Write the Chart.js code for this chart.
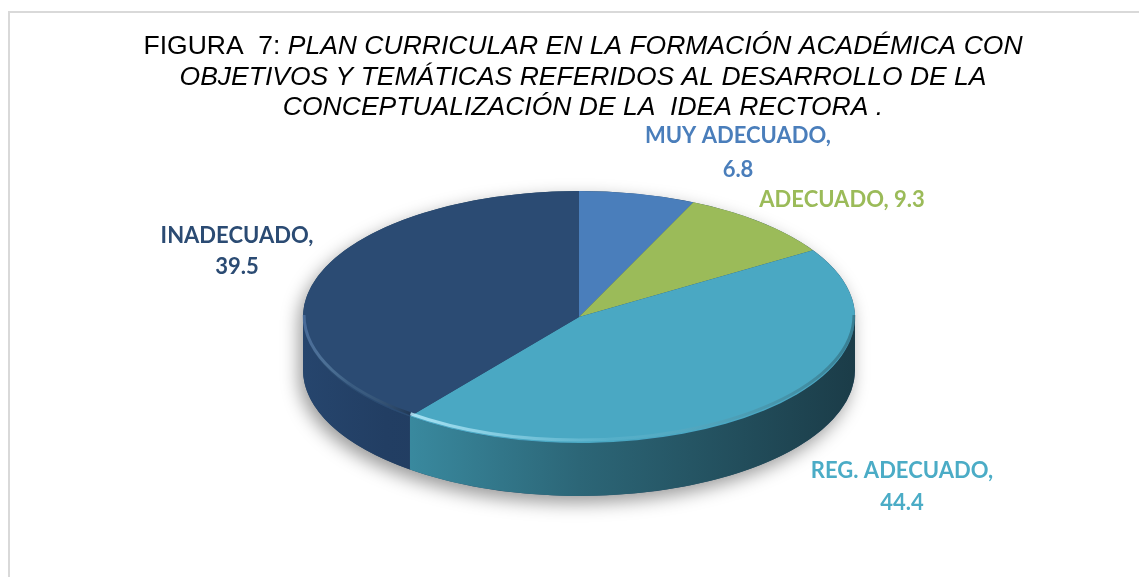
<!DOCTYPE html>
<html>
<head>
<meta charset="utf-8">
<script src="https://cdn.jsdelivr.net/npm/chart.js@4.4.1/dist/chart.umd.min.js"></script>
<style>
  html, body { margin: 0; padding: 0; background: #fff; }
  #wrap { position: relative; width: 1139px; height: 577px; }
</style>
</head>
<body>
<div id="wrap"><canvas id="pie" width="1139" height="577"></canvas></div>
<script>
// data
const categories = ["MUY ADECUADO", "ADECUADO", "REG. ADECUADO", "INADECUADO"];
const values = [6.8, 9.3, 44.4, 39.5];
const titleLines = [
  ["FIGURA  7: ", "PLAN CURRICULAR EN LA FORMACIÓN ACADÉMICA CON"],
  ["", "OBJETIVOS Y TEMÁTICAS REFERIDOS AL DESARROLLO DE LA"],
  ["", "CONCEPTUALIZACIÓN DE LA  IDEA RECTORA ."],
];

// look
const topColors = ["#4a7ebb", "#9bbb59", "#4aa8c3", "#2b4b73"];
const labelColors = ["#4a7ebb", "#9bbb59", "#4bacc6", "#2b4b73"];
const sideStops = [
  [[0, "#3a6494"], [1, "#2a4a70"]],
  [[0, "#7a9446"], [1, "#5f7436"]],
  [[0, "#4499b0"], [0.15, "#3b8ea4"], [0.5, "#2c6677"], [1, "#1b3c48"]],
  [[0, "#26456d"], [0.15, "#223e63"], [1, "#1c3352"]],
];
const bevelLight = [
  "rgba(140,180,230,0.6)",
  "rgba(200,225,150,0.6)",
  "rgba(190,240,255,0.8)",
  "rgba(95,130,180,0.55)",
];
// ellipse of the top face, depth of the wall
const PIE = { cx: 579, cy: 317, rx: 276, ry: 126, depth: 53 };
// label anchors (centre of each text line)
const labelPos = [
  { x: 738, y: [136, 170], lines: 2 },
  { x: 842, y: [200], lines: 1 },
  { x: 902, y: [471, 503], lines: 2 },
  { x: 237, y: [236, 267], lines: 2 },
];
const TITLE_FONT = "26.5px 'Liberation Sans', Arial";

function ellPt(a) {
  return PIE.cx + PIE.rx * Math.cos(a);
}

const frame = {
  id: "frame",
  beforeDraw(chart) {
    const ctx = chart.ctx;
    ctx.save();
    ctx.strokeStyle = "#d9d9d9";
    ctx.lineWidth = 2;
    ctx.beginPath();
    ctx.moveTo(9, 577);
    ctx.lineTo(9, 12);
    ctx.lineTo(1139, 12);
    ctx.stroke();

    // title, first chunk upright, rest italic
    ctx.fillStyle = "#000";
    ctx.textBaseline = "middle";
    const ys = [47, 78, 108];
    titleLines.forEach((parts, i) => {
      ctx.font = TITLE_FONT;
      const w0 = ctx.measureText(parts[0]).width;
      ctx.font = "italic " + TITLE_FONT;
      const w1 = ctx.measureText(parts[1]).width;
      let x = 583 - (w0 + w1) / 2;
      ctx.textAlign = "left";
      ctx.font = TITLE_FONT;
      ctx.fillText(parts[0], x, ys[i]);
      ctx.font = "italic " + TITLE_FONT;
      ctx.fillText(parts[1], x + w0, ys[i]);
    });
    ctx.restore();
  },
};

const pie3d = {
  id: "pie3d",
  beforeDatasetsDraw(chart) {
    const ctx = chart.ctx;
    const meta = chart.getDatasetMeta(0);
    const { cx, cy, rx, ry, depth } = PIE;

    // silhouette with soft shadow
    ctx.save();
    ctx.shadowColor = "rgba(0,0,0,0.4)";
    ctx.shadowBlur = 18;
    ctx.shadowOffsetX = -4;
    ctx.shadowOffsetY = 7;
    ctx.fillStyle = "#2a4a66";
    ctx.beginPath();
    ctx.ellipse(cx, cy, rx, ry, 0, Math.PI, 2 * Math.PI, false);
    ctx.lineTo(cx + rx, cy + depth);
    ctx.ellipse(cx, cy + depth, rx, ry, 0, 0, Math.PI, false);
    ctx.closePath();
    ctx.fill();
    ctx.restore();

    // front walls of each slice
    meta.data.forEach((arc, i) => {
      const lo = Math.max(arc.startAngle, 0);
      const hi = Math.min(arc.endAngle, Math.PI);
      if (lo >= hi) return;
      const g = ctx.createLinearGradient(cx - rx, 0, cx + rx, 0);
      sideStops[i].forEach(([o, c]) => g.addColorStop(o, c));
      ctx.save();
      ctx.fillStyle = g;
      ctx.beginPath();
      ctx.ellipse(cx, cy, rx, ry, 0, lo, hi, false);
      ctx.ellipse(cx, cy + depth, rx, ry, 0, hi, lo, true);
      ctx.closePath();
      ctx.fill();
      ctx.restore();
    });

    // squash the library's round pie onto the ellipse
    const a = meta.data[0];
    ctx.save();
    ctx.translate(cx, cy);
    ctx.scale(rx / a.outerRadius, ry / a.outerRadius);
    ctx.translate(-a.x, -a.y);
  },
  afterDatasetsDraw(chart) {
    const ctx = chart.ctx;
    ctx.restore();
    const meta = chart.getDatasetMeta(0);
    const { cx, cy, rx, ry } = PIE;
    // bevel light along the front rim
    meta.data.forEach((arc, i) => {
      const lo = Math.max(arc.startAngle, 0);
      const hi = Math.min(arc.endAngle, Math.PI);
      if (lo >= hi) return;
      const g = ctx.createLinearGradient(ellPt(hi), 0, ellPt(lo), 0);
      g.addColorStop(0, bevelLight[i]);
      g.addColorStop(0.45, "rgba(190,240,255,0.1)");
      g.addColorStop(1, "rgba(0,0,0,0.25)");
      ctx.save();
      ctx.strokeStyle = g;
      ctx.lineWidth = 3;
      ctx.beginPath();
      ctx.ellipse(cx, cy - 2, rx - 1, ry - 1, 0, lo, hi, false);
      ctx.stroke();
      ctx.restore();
    });
  },
  afterDraw(chart) {
    const ctx = chart.ctx;
    ctx.save();
    ctx.font = "bold 22px Lato, 'Open Sans', sans-serif";
    ctx.textAlign = "center";
    ctx.textBaseline = "middle";
    categories.forEach((name, i) => {
      const p = labelPos[i];
      ctx.fillStyle = labelColors[i];
      if (p.lines === 2) {
        ctx.fillText(name + ",", p.x, p.y[0]);
        ctx.fillText(String(values[i]), p.x, p.y[1]);
      } else {
        ctx.fillText(name + ", " + values[i], p.x, p.y[0]);
      }
    });
    ctx.restore();
  },
};

new Chart(document.getElementById("pie"), {
  type: "pie",
  data: {
    labels: categories,
    datasets: [
      {
        data: values,
        backgroundColor: topColors,
        borderWidth: 0,
      },
    ],
  },
  options: {
    responsive: false,
    animation: false,
    events: [],
    layout: { padding: 20 },
    plugins: {
      legend: { display: false },
      title: { display: false },
      tooltip: { enabled: false },
    },
  },
  plugins: [frame, pie3d],
});
</script>
</body>
</html>
